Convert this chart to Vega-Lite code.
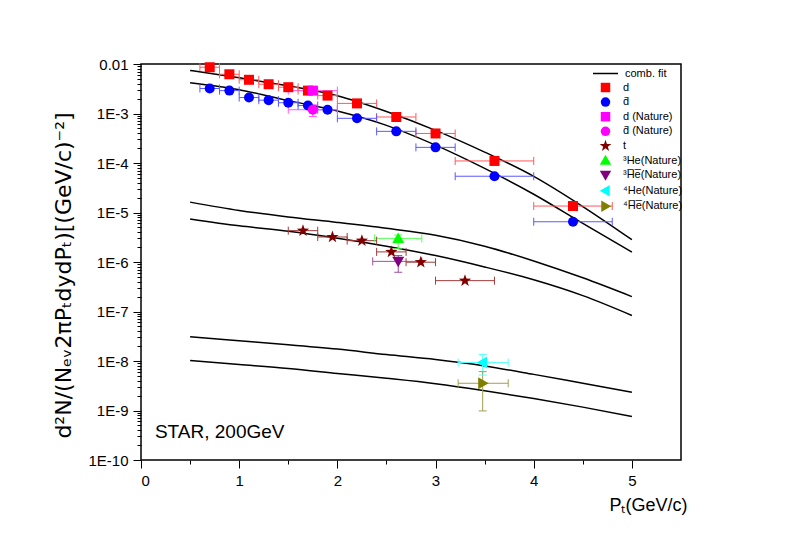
{
  "$schema": "https://vega.github.io/schema/vega-lite/v6.json",
  "width": 540,
  "height": 396,
  "autosize": {"type": "none"},
  "padding": {"left": 141, "top": 64, "right": 108, "bottom": 92},
  "background": "white",
  "config": {
    "font": "Liberation Sans",
    "view": {"stroke": "black", "strokeWidth": 1.5},
    "axis": {
      "domain": false, "grid": false, "tickColor": "black", "tickWidth": 1,
      "labelColor": "black", "titleColor": "black", "labelFontSize": 15,
      "titleFontSize": 18, "titleFontWeight": "normal",
      "labelFont": "Liberation Sans", "titleFont": "Liberation Sans", "labelOverlap": false
    },
    "legend": {"labelFont": "Liberation Sans", "labelFontSize": 11, "labelColor": "black"}
  },
  "datasets": {
    "fits": [
      {"curve": "d", "x": 0.5, "y": 7.41e-3}, {"curve": "d", "x": 1.0, "y": 5.25e-3}, {"curve": "d", "x": 1.5, "y": 3.63e-3}, {"curve": "d", "x": 2.0, "y": 2.29e-3}, {"curve": "d", "x": 2.5, "y": 1.10e-3}, {"curve": "d", "x": 3.0, "y": 4.57e-4}, {"curve": "d", "x": 3.5, "y": 1.66e-4}, {"curve": "d", "x": 4.0, "y": 5.37e-5}, {"curve": "d", "x": 4.5, "y": 1.32e-5}, {"curve": "d", "x": 5.0, "y": 2.82e-6},
      {"curve": "dbar", "x": 0.5, "y": 4.17e-3}, {"curve": "dbar", "x": 1.0, "y": 3.02e-3}, {"curve": "dbar", "x": 1.5, "y": 1.82e-3}, {"curve": "dbar", "x": 2.0, "y": 1.12e-3}, {"curve": "dbar", "x": 2.5, "y": 5.75e-4}, {"curve": "dbar", "x": 3.0, "y": 2.29e-4}, {"curve": "dbar", "x": 3.5, "y": 7.76e-5}, {"curve": "dbar", "x": 4.0, "y": 2.34e-5}, {"curve": "dbar", "x": 4.5, "y": 6.03e-6}, {"curve": "dbar", "x": 5.0, "y": 1.58e-6},
      {"curve": "he3", "x": 0.5, "y": 1.62e-5}, {"curve": "he3", "x": 1.0, "y": 1.10e-5}, {"curve": "he3", "x": 1.5, "y": 8.13e-6}, {"curve": "he3", "x": 2.0, "y": 6.31e-6}, {"curve": "he3", "x": 2.5, "y": 4.79e-6}, {"curve": "he3", "x": 3.0, "y": 3.47e-6}, {"curve": "he3", "x": 3.5, "y": 2.09e-6}, {"curve": "he3", "x": 4.0, "y": 1.05e-6}, {"curve": "he3", "x": 4.5, "y": 4.79e-7}, {"curve": "he3", "x": 5.0, "y": 2.00e-7},
      {"curve": "he3bar", "x": 0.5, "y": 7.41e-6}, {"curve": "he3bar", "x": 1.0, "y": 5.37e-6}, {"curve": "he3bar", "x": 1.5, "y": 4.17e-6}, {"curve": "he3bar", "x": 2.0, "y": 3.02e-6}, {"curve": "he3bar", "x": 2.5, "y": 2.09e-6}, {"curve": "he3bar", "x": 3.0, "y": 1.35e-6}, {"curve": "he3bar", "x": 3.5, "y": 7.94e-7}, {"curve": "he3bar", "x": 4.0, "y": 4.37e-7}, {"curve": "he3bar", "x": 4.5, "y": 2.09e-7}, {"curve": "he3bar", "x": 5.0, "y": 8.32e-8},
      {"curve": "he4", "x": 0.5, "y": 3.09e-8}, {"curve": "he4", "x": 1.0, "y": 2.57e-8}, {"curve": "he4", "x": 1.5, "y": 2.14e-8}, {"curve": "he4", "x": 2.0, "y": 1.74e-8}, {"curve": "he4", "x": 2.5, "y": 1.35e-8}, {"curve": "he4", "x": 3.0, "y": 1.07e-8}, {"curve": "he4", "x": 3.5, "y": 7.94e-9}, {"curve": "he4", "x": 4.0, "y": 5.37e-9}, {"curve": "he4", "x": 4.5, "y": 3.55e-9}, {"curve": "he4", "x": 5.0, "y": 2.34e-9},
      {"curve": "he4bar", "x": 0.5, "y": 1.02e-8}, {"curve": "he4bar", "x": 1.0, "y": 8.51e-9}, {"curve": "he4bar", "x": 1.5, "y": 7.08e-9}, {"curve": "he4bar", "x": 2.0, "y": 5.62e-9}, {"curve": "he4bar", "x": 2.5, "y": 4.47e-9}, {"curve": "he4bar", "x": 3.0, "y": 3.47e-9}, {"curve": "he4bar", "x": 3.5, "y": 2.51e-9}, {"curve": "he4bar", "x": 4.0, "y": 1.74e-9}, {"curve": "he4bar", "x": 4.5, "y": 1.17e-9}, {"curve": "he4bar", "x": 5.0, "y": 7.59e-10}
    ],
    "pts": [
      {"series": "d", "x": 0.7, "y": 0.0086, "xlo": 0.6, "xhi": 0.8},
      {"series": "d", "x": 0.9, "y": 0.0062, "xlo": 0.8, "xhi": 1.0},
      {"series": "d", "x": 1.1, "y": 0.0048, "xlo": 1.0, "xhi": 1.2},
      {"series": "d", "x": 1.3, "y": 0.0039, "xlo": 1.2, "xhi": 1.4},
      {"series": "d", "x": 1.5, "y": 0.0034, "xlo": 1.4, "xhi": 1.6},
      {"series": "d", "x": 1.7, "y": 0.0029, "xlo": 1.6, "xhi": 1.8},
      {"series": "d", "x": 1.9, "y": 0.0023, "xlo": 1.8, "xhi": 2.0},
      {"series": "d", "x": 2.2, "y": 0.0016, "xlo": 2.0, "xhi": 2.4},
      {"series": "d", "x": 2.6, "y": 0.00085, "xlo": 2.4, "xhi": 2.8},
      {"series": "d", "x": 3.0, "y": 0.000395, "xlo": 2.8, "xhi": 3.2},
      {"series": "d", "x": 3.6, "y": 0.00011, "xlo": 3.2, "xhi": 4.0},
      {"series": "d", "x": 4.4, "y": 0.0000135, "xlo": 4.0, "xhi": 4.8},
      {"series": "d\u0304", "x": 0.7, "y": 0.0032, "xlo": 0.6, "xhi": 0.8},
      {"series": "d\u0304", "x": 0.9, "y": 0.0029, "xlo": 0.8, "xhi": 1.0},
      {"series": "d\u0304", "x": 1.1, "y": 0.0021, "xlo": 1.0, "xhi": 1.2},
      {"series": "d\u0304", "x": 1.3, "y": 0.00186, "xlo": 1.2, "xhi": 1.4},
      {"series": "d\u0304", "x": 1.5, "y": 0.00165, "xlo": 1.4, "xhi": 1.6},
      {"series": "d\u0304", "x": 1.7, "y": 0.00145, "xlo": 1.6, "xhi": 1.8},
      {"series": "d\u0304", "x": 1.9, "y": 0.00119, "xlo": 1.8, "xhi": 2.0},
      {"series": "d\u0304", "x": 2.2, "y": 0.0008, "xlo": 2.0, "xhi": 2.4},
      {"series": "d\u0304", "x": 2.6, "y": 0.000436, "xlo": 2.4, "xhi": 2.8},
      {"series": "d\u0304", "x": 3.0, "y": 0.000207, "xlo": 2.8, "xhi": 3.2},
      {"series": "d\u0304", "x": 3.6, "y": 0.000054, "xlo": 3.2, "xhi": 4.0},
      {"series": "d\u0304", "x": 4.4, "y": 0.0000065, "xlo": 4.0, "xhi": 4.8},
      {"series": "d (Nature)", "x": 1.75, "y": 0.0029, "xlo": 1.5, "xhi": 2.0},
      {"series": "d\u0304 (Nature)", "x": 1.75, "y": 0.00119, "xlo": 1.5, "xhi": 2.0, "ylo": 0.00087, "yhi": 0.0015},
      {"series": "t", "x": 1.65, "y": 4.3e-6, "xlo": 1.5, "xhi": 1.8},
      {"series": "t", "x": 1.95, "y": 3.2e-6, "xlo": 1.8, "xhi": 2.1},
      {"series": "t", "x": 2.25, "y": 2.7e-6, "xlo": 2.1, "xhi": 2.4},
      {"series": "t", "x": 2.55, "y": 1.6e-6, "xlo": 2.4, "xhi": 2.7},
      {"series": "t", "x": 2.85, "y": 9.9e-7, "xlo": 2.7, "xhi": 3.0},
      {"series": "t", "x": 3.3, "y": 4.2e-7, "xlo": 3.0, "xhi": 3.6},
      {"series": "\u00b3He(Nature)", "x": 2.62, "y": 3.0e-6, "xlo": 2.38, "xhi": 2.86, "ylo": 1.85e-6, "yhi": 3.5e-6},
      {"series": "\u00b3H\u0305e\u0305(Nature)", "x": 2.62, "y": 1.03e-6, "xlo": 2.36, "xhi": 2.86, "ylo": 6.2e-7, "yhi": 1.35e-6},
      {"series": "\u2074He(Nature)", "x": 3.48, "y": 9.3e-9, "xlo": 3.23, "xhi": 3.74, "ylo": 5.2e-9, "yhi": 1.35e-8},
      {"series": "\u2074H\u0305e\u0305(Nature)", "x": 3.48, "y": 3.55e-9, "xlo": 3.23, "xhi": 3.74, "ylo": 9.8e-10, "yhi": 6.1e-9}
    ]
  },
  "layer": [
    {
      "data": {"name": "fits"},
      "mark": {"type": "line", "strokeWidth": 1.5, "interpolate": "monotone"},
      "encoding": {
        "x": {
          "field": "x", "type": "quantitative",
          "scale": {"domain": [0, 5.5], "nice": false, "zero": false},
          "axis": {
            "title": "P\u209c(GeV/c)",
            "values": [0, 0.5, 1, 1.5, 2, 2.5, 3, 3.5, 4, 4.5, 5],
            "labelExpr": "datum.value % 1 == 0 ? format(datum.value, 'd') : ''",
            "tickSize": {"condition": {"test": "datum.value % 1 == 0", "value": 8}, "value": 4},
            "labelPadding": 5, "titlePadding": 8, "titleAnchor": "end", "titleX": 546, "titleAlign": "right"
          }
        },
        "y": {
          "field": "y", "type": "quantitative",
          "scale": {"type": "log", "domain": [1e-10, 0.01], "nice": false},
          "axis": {
            "title": "d\u00b2N/(N\u2091\u1d652\u03c0P\u209cdydP\u209c)[(GeV/c)\u207b\u00b2]",
            "titleFont": "DejaVu Sans", "titleFontSize": 22, "titleY": 211,
            "values": [1e-10, 2e-10, 3e-10, 4e-10, 5e-10, 6e-10, 7e-10, 8e-10, 9e-10, 1e-9, 2e-9, 3e-9, 4e-9, 5e-9, 6e-9, 7e-9, 8e-9, 9e-9, 1e-8, 2e-8, 3e-8, 4e-8, 5e-8, 6e-8, 7e-8, 8e-8, 9e-8, 1e-7, 2e-7, 3e-7, 4e-7, 5e-7, 6e-7, 7e-7, 8e-7, 9e-7, 1e-6, 2e-6, 3e-6, 4e-6, 5e-6, 6e-6, 7e-6, 8e-6, 9e-6, 1e-5, 2e-5, 3e-5, 4e-5, 5e-5, 6e-5, 7e-5, 8e-5, 9e-5, 1e-4, 2e-4, 3e-4, 4e-4, 5e-4, 6e-4, 7e-4, 8e-4, 9e-4, 1e-3, 2e-3, 3e-3, 4e-3, 5e-3, 6e-3, 7e-3, 8e-3, 9e-3, 0.01],
            "labelExpr": "abs(log(datum.value)/LN10 - round(log(datum.value)/LN10)) < 0.001 ? (datum.value > 0.005 ? '0.01' : '1E' + round(log(datum.value)/LN10)) : ''",
            "tickSize": {"condition": {"test": "abs(log(datum.value)/LN10 - round(log(datum.value)/LN10)) < 0.001", "value": 8}, "value": 4},
            "labelPadding": 5, "titlePadding": 12
          }
        },
        "detail": {"field": "curve"},
        "color": {
          "datum": "comb. fit", "type": "nominal",
          "scale": {"range": ["black"]},
          "legend": {"title": null, "orient": "none", "legendX": 451, "legendY": -4, "symbolType": "stroke", "symbolSize": 625, "symbolStrokeWidth": 1.5, "labelOffset": 6, "padding": 0}
        }
      }
    },
    {
      "data": {"name": "pts"},
      "mark": {"type": "rule", "strokeWidth": 1},
      "encoding": {
        "x": {"field": "xlo", "type": "quantitative"},
        "x2": {"field": "xhi"},
        "y": {"field": "y", "type": "quantitative"},
        "stroke": {"field": "series", "type": "nominal", "legend": null,
          "scale": {"domain": ["\u2074H\u0305e\u0305(Nature)", "\u2074He(Nature)", "\u00b3H\u0305e\u0305(Nature)", "\u00b3He(Nature)", "t", "d\u0304 (Nature)", "d (Nature)", "d\u0304", "d"],
                    "range": ["#a0a050", "#5affff", "#a050a0", "#5aff5a", "#a03c3c", "#ff5aff", "#ff5aff", "#5a5aff", "#ff5a5a"]}}
      }
    },
    {
      "data": {"name": "pts"},
      "mark": {"type": "point", "shape": "M0,-1L0,1", "size": 64, "strokeWidth": 1, "filled": false, "opacity": 1},
      "encoding": {
        "x": {"field": "xlo", "type": "quantitative"},
        "y": {"field": "y", "type": "quantitative"},
        "stroke": {"field": "series", "type": "nominal", "legend": null}
      }
    },
    {
      "data": {"name": "pts"},
      "mark": {"type": "point", "shape": "M0,-1L0,1", "size": 64, "strokeWidth": 1, "filled": false, "opacity": 1},
      "encoding": {
        "x": {"field": "xhi", "type": "quantitative"},
        "y": {"field": "y", "type": "quantitative"},
        "stroke": {"field": "series", "type": "nominal", "legend": null}
      }
    },
    {
      "data": {"name": "pts"},
      "transform": [{"filter": "isValid(datum.ylo)"}],
      "mark": {"type": "rule", "strokeWidth": 1},
      "encoding": {
        "x": {"field": "x", "type": "quantitative"},
        "y": {"field": "ylo", "type": "quantitative"},
        "y2": {"field": "yhi"},
        "stroke": {"field": "series", "type": "nominal", "legend": null}
      }
    },
    {
      "data": {"name": "pts"},
      "transform": [{"filter": "isValid(datum.ylo)"}],
      "mark": {"type": "point", "shape": "M-1,0L1,0", "size": 64, "strokeWidth": 1, "filled": false, "opacity": 1},
      "encoding": {
        "x": {"field": "x", "type": "quantitative"},
        "y": {"field": "ylo", "type": "quantitative"},
        "stroke": {"field": "series", "type": "nominal", "legend": null}
      }
    },
    {
      "data": {"name": "pts"},
      "transform": [{"filter": "isValid(datum.ylo)"}],
      "mark": {"type": "point", "shape": "M-1,0L1,0", "size": 64, "strokeWidth": 1, "filled": false, "opacity": 1},
      "encoding": {
        "x": {"field": "x", "type": "quantitative"},
        "y": {"field": "yhi", "type": "quantitative"},
        "stroke": {"field": "series", "type": "nominal", "legend": null}
      }
    },
    {
      "data": {"name": "pts"},
      "mark": {"type": "point", "filled": true, "size": 100, "opacity": 1, "strokeWidth": 0},
      "encoding": {
        "x": {"field": "x", "type": "quantitative"},
        "y": {"field": "y", "type": "quantitative"},
        "fill": {"field": "series", "type": "nominal",
          "scale": {"domain": ["d", "d\u0304", "d (Nature)", "d\u0304 (Nature)", "t", "\u00b3He(Nature)", "\u00b3H\u0305e\u0305(Nature)", "\u2074He(Nature)", "\u2074H\u0305e\u0305(Nature)"],
                    "range": ["#ff0000", "#0000ff", "#ff00ff", "#ff00ff", "#800000", "#00ff00", "#800080", "#00ffff", "#808000"]},
          "legend": {"title": null, "orient": "none", "legendX": 459, "legendY": 18, "symbolSize": 90, "labelOffset": 12, "rowPadding": 2.6, "padding": 0, "symbolStrokeWidth": 0}},
        "shape": {"field": "series", "type": "nominal",
          "scale": {"domain": ["d", "d\u0304", "d (Nature)", "d\u0304 (Nature)", "t", "\u00b3He(Nature)", "\u00b3H\u0305e\u0305(Nature)", "\u2074He(Nature)", "\u2074H\u0305e\u0305(Nature)"],
                    "range": ["square", "circle", "square", "circle", "M0,-1.3L0.306,-0.421L1.236,-0.402L0.494,0.161L0.764,1.052L0,0.52L-0.764,1.052L-0.494,0.161L-1.236,-0.402L-0.306,-0.421Z", "M0,-1.2L1.2,0.9L-1.2,0.9Z", "M0,1.2L1.2,-0.9L-1.2,-0.9Z", "M-1.2,0L0.9,-1.2L0.9,1.2Z", "M1.2,0L-0.9,-1.2L-0.9,1.2Z"]}}
      }
    },
    {
      "data": {"values": [{}]},
      "mark": {"type": "text", "align": "left", "baseline": "middle", "fontSize": 19, "font": "Liberation Sans", "color": "black"},
      "encoding": {
        "x": {"datum": 0.142, "type": "quantitative"},
        "y": {"datum": 3.7e-10, "type": "quantitative"},
        "text": {"value": "STAR, 200GeV"}
      }
    }
  ]
}
